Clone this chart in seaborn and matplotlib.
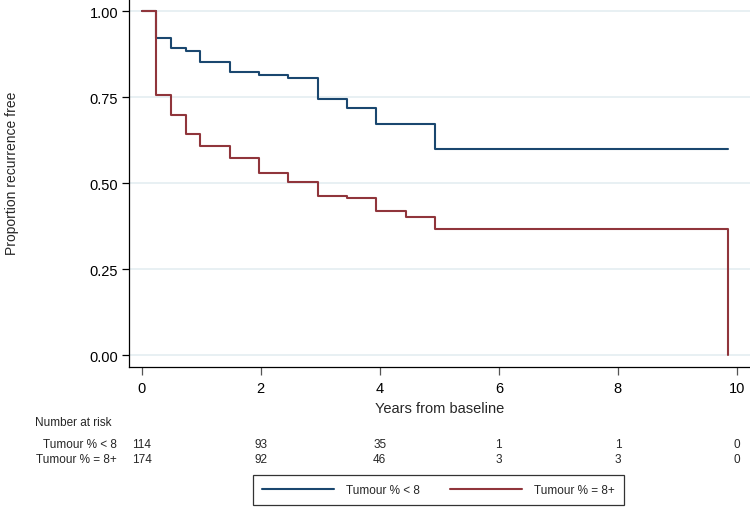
import pandas as pd
import matplotlib
matplotlib.use("Agg")
import matplotlib.pyplot as plt
from matplotlib.lines import Line2D
import seaborn as sns

# Kaplan-Meier step values
group_labels = ["Tumour % < 8", "Tumour % = 8+"]
years_lt8 = [0, 0.246, 0.493, 0.739, 0.986, 1.478, 1.971, 2.464, 2.957, 3.450, 3.943, 4.928, 9.856]
surv_lt8 = [1.0, 0.921, 0.892, 0.885, 0.851, 0.824, 0.815, 0.805, 0.744, 0.718, 0.672, 0.599, 0.599]
years_8p = [0, 0.246, 0.493, 0.739, 0.986, 1.478, 1.971, 2.464, 2.957, 3.450, 3.943, 4.435, 4.928, 9.856, 9.856]
surv_8p = [1.0, 0.757, 0.699, 0.642, 0.608, 0.573, 0.529, 0.504, 0.463, 0.457, 0.419, 0.400, 0.366, 0.366, 0.0]

# number at risk table
risk_years = [0, 2, 4, 6, 8, 10]
risk_lt8 = [114, 93, 35, 1, 1, 0]
risk_8p = [174, 92, 46, 3, 3, 0]

colors = ["#1a476f", "#90353b"]

df = pd.concat([
    pd.DataFrame({"years": years_lt8, "surv": surv_lt8, "group": group_labels[0]}),
    pd.DataFrame({"years": years_8p, "surv": surv_8p, "group": group_labels[1]}),
], ignore_index=True)

sns.set_style("ticks")
plt.rcParams["font.family"] = ["Liberation Sans", "DejaVu Sans"]

fig = plt.figure(figsize=(7.5, 5.1), dpi=100)
ax = fig.add_axes([0.1724, 0.2778, 0.8276, 0.7222])

sns.lineplot(data=df, x="years", y="surv", hue="group", hue_order=group_labels,
             palette=colors, estimator=None, sort=False, drawstyle="steps-post",
             linewidth=1.5, legend=False, ax=ax)

ax.set_xlim(-0.208, 10.22)
ax.set_ylim(-0.0358, 1.0349)
ax.set_xticks([0, 2, 4, 6, 8, 10])
ax.set_yticks([0, 0.25, 0.5, 0.75, 1.0])
ax.set_yticklabels(["0.00", "0.25", "0.50", "0.75", "1.00"])
ax.yaxis.grid(True, color="#e4eef1", linewidth=1.2)
ax.xaxis.grid(False)
ax.set_axisbelow(True)
for s in ["top", "right"]:
    ax.spines[s].set_visible(False)
for s in ["left", "bottom"]:
    ax.spines[s].set_color("black")
    ax.spines[s].set_linewidth(0.9)
ax.tick_params(axis="both", direction="out", length=5, width=0.9, colors="black",
               labelsize=10.5, pad=3, bottom=True, left=True)
ax.tick_params(axis="x", length=6, color="#555555", pad=4)
ax.set_xlabel("")
ax.set_ylabel("")

fig.text(440 / 750, 1 - 409 / 510, "Years from baseline", ha="center", va="center", fontsize=10.5)
fig.text(12 / 750, 1 - 173 / 510, "Proportion recurrence free", rotation=90,
         ha="center", va="center", fontsize=10)

# risk table
trans = matplotlib.transforms.blended_transform_factory(ax.transData, fig.transFigure)
fig.text(35 / 750, 1 - 423 / 510, "Number at risk", ha="left", va="center", fontsize=8.5)
for row_y, lab, counts in [(445, group_labels[0], risk_lt8), (460, group_labels[1], risk_8p)]:
    fig.text(117 / 750, 1 - row_y / 510, lab, ha="right", va="center", fontsize=8.5)
    for yr, n in zip(risk_years, counts):
        ax.text(yr, 1 - row_y / 510, str(n), transform=trans, ha="center", va="center",
                fontsize=8.5)

handles = [Line2D([], [], color=c, linewidth=1.5) for c in colors]
leg = fig.legend(handles, group_labels, ncol=2, loc="center",
                 bbox_to_anchor=(438.5 / 750, 1 - 491 / 510), frameon=True, fancybox=False,
                 edgecolor="black", handlelength=6.1, handletextpad=1.0, columnspacing=2.6,
                 borderpad=0.8, prop={"size": 8.5})
leg.get_frame().set_linewidth(0.9)

fig.savefig("out.png", dpi=100)
